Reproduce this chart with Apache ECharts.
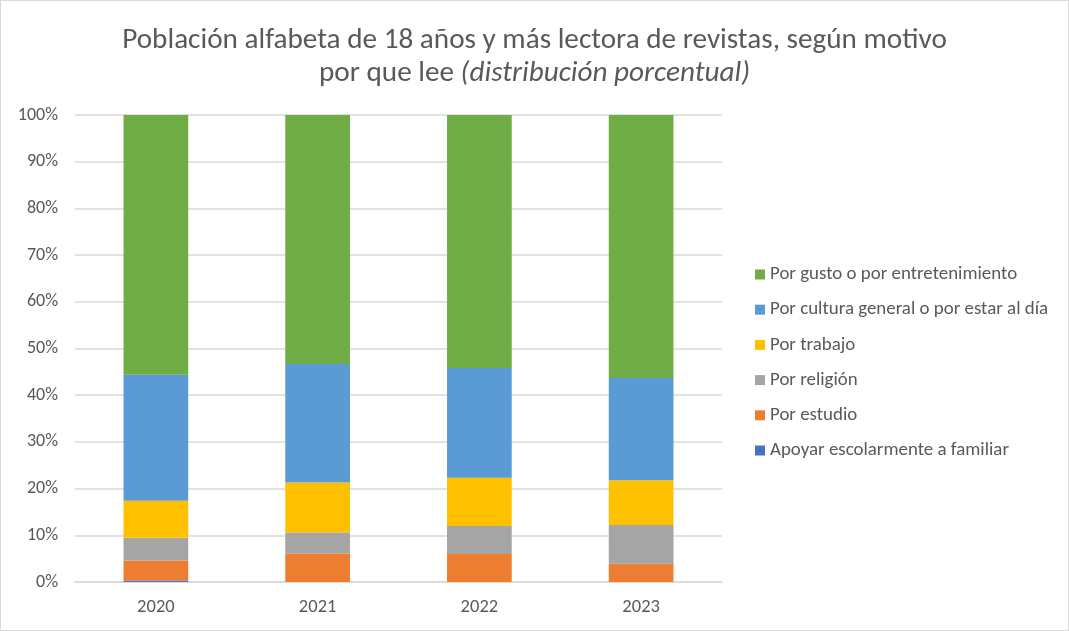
<!DOCTYPE html>
<html>
<head>
<meta charset="utf-8">
<script src="https://cdn.jsdelivr.net/npm/echarts@6/dist/echarts.min.js"></script>
<style>
  html, body { margin: 0; padding: 0; background: #fff; }
  #main { width: 1067px; height: 629px; border: 1px solid #d9d9d9; }
</style>
</head>
<body>
<div id="main"></div>
<script>
// datos (porcentajes)
var years = ['2020', '2021', '2022', '2023'];
var apoyar   = [0.3, 0, 0, 0];
var estudio  = [4.3, 6.1, 6.0, 3.9];
var religion = [4.9, 4.5, 6.0, 8.3];
var trabajo  = [7.9, 10.7, 10.3, 9.6];
var cultura  = [27.0, 25.4, 23.5, 21.9];
var gusto    = [55.6, 53.3, 54.2, 56.3];
var yTicks = [0, 10, 20, 30, 40, 50, 60, 70, 80, 90, 100];

var font = 'Carlito, Lato, "Open Sans", sans-serif';
var grey = '#595959';

function serie(nombre, datos, color) {
  return {
    name: nombre,
    type: 'bar',
    stack: 'total',
    barWidth: '40%',
    data: datos,
    itemStyle: { color: color },
    emphasis: { disabled: true }
  };
}

var myChart = echarts.init(document.getElementById('main'));
var option = {
  animation: false,
  textStyle: { fontFamily: font },
  title: [{
    text: 'Población alfabeta de 18 años y más lectora de revistas, según motivo',
    left: 'center',
    top: 25,
    padding: 0,
    textStyle: { fontFamily: font, fontSize: 29.2, fontWeight: 'normal', color: grey }
  }, {
    text: '{n|por que lee }{i|(distribución porcentual)}',
    left: 'center',
    top: 58,
    padding: 0,
    textStyle: {
      fontWeight: 'normal',
      rich: {
        n: { fontFamily: font, fontSize: 29.2, fontWeight: 'normal', color: grey },
        i: { fontFamily: font, fontSize: 29.2, fontWeight: 'normal', color: grey, fontStyle: 'italic' }
      }
    }
  }],
  legend: {
    orient: 'vertical',
    left: 749,
    top: 259,
    itemWidth: 10,
    itemHeight: 10,
    itemGap: 16.2,
    icon: 'rect',
    data: ['Por gusto o por entretenimiento', 'Por cultura general o por estar al día',
           'Por trabajo', 'Por religión', 'Por estudio', 'Apoyar escolarmente a familiar'],
    textStyle: { fontFamily: font, fontSize: 18.9, color: grey }
  },
  grid: { left: 74, right: 346, top: 114, bottom: 48 },
  xAxis: {
    type: 'category',
    data: years,
    axisTick: { show: false },
    axisLine: { lineStyle: { color: '#d9d9d9', width: 1.5 } },
    axisLabel: { fontFamily: font, fontSize: 18.5, color: grey, margin: 16 }
  },
  yAxis: {
    type: 'value',
    min: yTicks[0],
    max: yTicks[yTicks.length - 1],
    interval: 10,
    axisLine: { show: false },
    axisTick: { show: false },
    splitLine: { lineStyle: { color: '#d9d9d9', width: 1.5 } },
    axisLabel: {
      fontFamily: font, fontSize: 18, color: grey, margin: 17,
      formatter: function (v) { return v + '%'; }
    }
  },
  series: [
    serie('Apoyar escolarmente a familiar', apoyar, '#4472C4'),
    serie('Por estudio', estudio, '#ED7D31'),
    serie('Por religión', religion, '#A5A5A5'),
    serie('Por trabajo', trabajo, '#FFC000'),
    serie('Por cultura general o por estar al día', cultura, '#5B9BD5'),
    serie('Por gusto o por entretenimiento', gusto, '#70AD47')
  ]
};
myChart.setOption(option);
</script>
</body>
</html>
